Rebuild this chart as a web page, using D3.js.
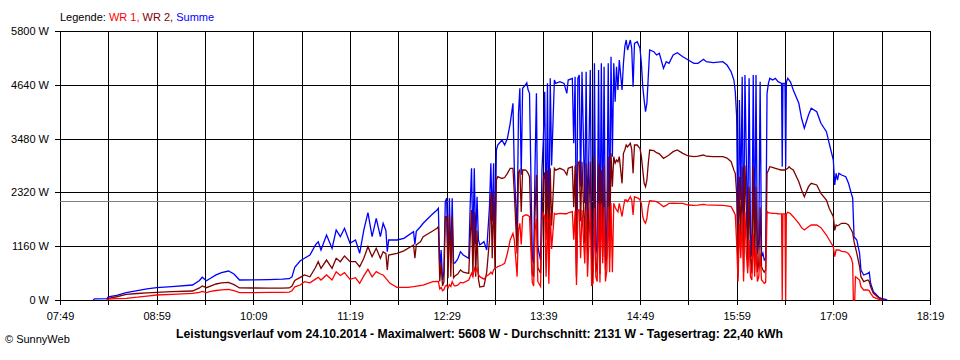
<!DOCTYPE html>
<html><head><meta charset="utf-8">
<script src="https://cdn.jsdelivr.net/npm/d3@7"></script>
<style>
html,body{margin:0;padding:0;background:#fff;}
svg{display:block;}
</style></head>
<body>
<svg id="chart" width="960" height="360"></svg>
<script>
// ---------- data ----------
const xTicks = ["07:49","08:24","08:59","09:34","10:09","10:44","11:19","11:54","12:29","13:04","13:39","14:14","14:49","15:24","15:59","16:34","17:09","17:44","18:19"];
const xTickLabels = ["07:49","08:59","10:09","11:19","12:29","13:39","14:49","15:59","17:09","18:19"];
const yTicks = [0,1160,2320,3480,4640,5800];
const seriesNames = ["WR 1","WR 2","Summe"];
const average = 2131;
const titleText = "Leistungsverlauf vom 24.10.2014 - Maximalwert: 5608 W - Durchschnitt: 2131 W - Tagesertrag: 22,40 kWh";

const summe = [["08:13",0],["08:14",25],["08:23",30],["08:24",70],["08:30",100],["08:37",157],["08:45",200],["08:52",240],["08:59",265],["09:10",290],["09:25",323],["09:30",420],["09:32",490],["09:35",416],["09:38",470],["09:42",540],["09:46",590],["09:51",625],["09:55",560],["09:59",431],["10:09",435],["10:20",440],["10:30",450],["10:35",460],["10:37",500],["10:39",705],["10:43",847],["10:46",899],["10:50",970],["10:54",1186],["10:56",1257],["10:58",1078],["11:02",1401],["11:06",1114],["11:09",1509],["11:12",1365],["11:15",1546],["11:19",1222],["11:23",1294],["11:26",1007],["11:29",1509],["11:32",1882],["11:35",1365],["11:38",1761],["11:41",1365],["11:43",1654],["11:45",1500],["11:46",1042],["11:47",1294],["11:53",1294],["11:58",1330],["12:05",1473],["12:06",1200],["12:07",1480],["12:10",1580],["12:12",1654],["12:18",1833],["12:22",1940],["12:23",1977],
["12:24",647],["12:25",1078],["12:26",431],["12:27",600],["12:28",2119],["12:29",2193],["12:30",718],["12:31",2193],["12:32",790],["12:33",2193],["12:34",790],["12:35",800],["12:37",880],["12:39",1042],["12:41",970],["12:45",899],["12:46",2012],["12:47",2840],["12:48",1150],["12:49",2840],["12:50",1200],["12:51",2227],["12:52",1294],["12:53",1186],["12:56",1257],["12:58",1078],["13:00",2012],["13:01",2947],["13:02",1700],["13:03",2947],["13:04",1150],["13:05",3234],["13:06",3342],["13:09",3450],["13:11",3342],["13:13",3486],["13:15",3810],["13:17",4241],["13:18",2803],["13:20",1438],["13:21",4025],["13:22",4564],["13:23",2700],["13:24",4564],["13:26",4635],["13:27",4685],["13:28",4528],["13:29",4456],["13:31",934],["13:32",790],["13:33",2900],["13:34",4456],["13:35",1150],["13:37",862],["13:38",2800],["13:39",3450],["13:40",4491],["13:41",1438],["13:42",4671],["13:43",1222],["13:44",4779],["13:45",2900],["13:47",4743],["13:48",4671],["13:51",4707],["13:54",4671],["13:56",4456],["13:57",4743],["14:00",4779],["14:01",3378],["14:02",4815],["14:03",790],["14:04",4779],["14:05",4851],["14:06",2443],["14:07",4922],["14:09",2084],["14:10",4922],["14:11",1509],["14:13",4958],["14:14",1078],["14:15",862],["14:16",5103],["14:17",1007],["14:18",1222],["14:19",4958],["14:20",934],["14:21",5103],["14:22",1365],["14:23",5031],["14:24",862],["14:25",1580],["14:26",5103],["14:27",1509],["14:28",5246],["14:29",3090],["14:30",5103],["14:31",4275],["14:32",5031],["14:33",4528],["14:34",5174],["14:36",4528],["14:37",5103],["14:38",5461],["14:39",5606],["14:40",5390],["14:42",5606],["14:43",5426],["14:44",4599],["14:45",5534],["14:47",5570],["14:48",5498],["14:49",5426],["14:50",5103],["14:51",4599],["14:52",4312],["14:53",4060],["14:54",4241],["14:55",4815],["14:56",5390],["14:59",5354],["15:01",5282],["15:03",5318],["15:06",4995],["15:08",5138],["15:10",5103],["15:13",5282],["15:16",5332],["15:20",5246],["15:24",5174],["15:28",5103],["15:31",5103],["15:35",5189],["15:37",5138],["15:42",5120],["15:49",5138],["15:52",5066],["15:55",4922],["15:57",4743],["15:58",4491],["15:59",3952],
["16:00",1007],["16:01",4312],["16:02",2156],["16:03",4815],["16:04",1007],["16:05",4851],["16:06",3019],["16:07",1300],["16:08",4779],["16:09",1438],["16:10",934],["16:11",4851],["16:12",1007],["16:13",4851],["16:14",1000],["16:15",1294],["16:16",4707],["16:17",934],["16:18",1007],["16:19",862],["16:20",900],["16:21",4456],["16:22",4671],["16:23",4779],["16:25",4743],["16:27",4779],["16:29",4707],["16:31:30",4671],["16:32",2875],["16:32:30",4671],["16:34",4671],["16:34:30",2875],["16:35",4700],["16:36",4779],["16:37",4743],["16:38",4700],["16:40",4528],["16:44",4241],["16:46",3918],["16:48",3702],["16:51",3989],["16:53",4133],["16:57",4060],["17:00",3810],["17:04",3630],["17:06",3378],["17:09",3019],["17:10",2479],["17:11",2731],["17:12",2587],["17:13",2731],["17:15",2695],["17:18",2659],["17:20",2516],["17:22",2300],["17:23",2200],["17:24",1365],["17:26",1294],["17:28",1007],["17:29",647],["17:31",539],["17:34",575],["17:35",600],["17:36",360],["17:38",179],["17:42",58],["17:44",30],["17:47",15],["17:48",0]];

const wr2 = [["08:23",0],["08:24",37],["08:30",70],["08:37",123],["08:45",140],["08:52",155],["08:59",166],["09:10",180],["09:25",194],["09:30",260],["09:32",302],["09:35",265],["09:38",300],["09:42",345],["09:46",370],["09:51",381],["09:55",330],["09:59",260],["10:09",259],["10:20",255],["10:30",255],["10:35",260],["10:37",300],["10:39",420],["10:43",489],["10:46",539],["10:50",500],["10:54",700],["10:56",826],["10:58",680],["11:02",862],["11:06",683],["11:09",899],["11:12",826],["11:15",949],["11:19",826],["11:23",826],["11:26",718],["11:29",900],["11:32",1150],["11:35",934],["11:38",1114],["11:41",899],["11:43",1042],["11:45",1000],["11:46",647],["11:47",970],["11:53",1007],["11:58",1060],["12:05",1186],["12:06",900],["12:07",1190],["12:10",1257],["12:12",1365],["12:18",1473],["12:22",1546],["12:23",1580],
["12:24",400],["12:25",800],["12:26",300],["12:27",395],["12:28",1796],["12:29",1800],["12:30",467],["12:31",1850],["12:32",500],["12:33",1796],["12:34",480],["12:35",520],["12:37",560],["12:39",647],["12:41",600],["12:45",575],["12:46",1300],["12:47",1940],["12:48",550],["12:49",1900],["12:50",500],["12:51",1500],["12:52",450],["12:53",280],["12:56",300],["12:58",600],["13:00",1300],["13:01",2300],["13:02",900],["13:03",2300],["13:04",650],["13:05",2587],["13:06",2659],["13:09",2620],["13:11",2640],["13:13",2731],["13:15",2840],["13:17",2840],["13:18",2300],["13:20",1000],["13:21",2750],["13:22",2803],["13:23",1900],["13:24",2803],["13:26",2803],["13:27",2780],["13:28",2731],["13:29",2659],["13:31",575],["13:32",503],["13:33",1900],["13:34",2700],["13:35",700],["13:37",575],["13:38",1700],["13:39",2600],["13:40",2750],["13:41",1300],["13:42",2800],["13:43",900],["13:44",2840],["13:45",1600],["13:47",2840],["13:48",2800],["13:51",2840],["13:54",2800],["13:56",2700],["13:57",2840],["14:00",2875],["14:01",2000],["14:02",2900],["14:03",503],["14:04",2950],["14:05",2982],["14:06",1700],["14:07",2982],["14:09",1222],["14:10",2947],["14:11",1000],["14:13",2982],["14:14",790],["14:15",600],["14:16",3090],["14:17",600],["14:18",800],["14:19",2947],["14:20",560],["14:21",2803],["14:22",934],["14:23",2900],["14:24",647],["14:25",1000],["14:26",3090],["14:27",900],["14:28",3162],["14:29",2443],["14:30",3090],["14:31",2950],["14:32",3019],["14:33",2980],["14:34",3090],["14:36",2516],["14:37",3162],["14:38",3234],["14:39",3342],["14:40",3300],["14:42",3378],["14:43",3250],["14:44",2731],["14:45",3342],["14:47",3342],["14:48",3300],["14:49",3270],["14:50",3090],["14:51",2803],["14:52",2516],["14:53",2443],["14:54",2587],["14:55",2947],["14:56",3234],["14:59",3220],["15:01",3176],["15:03",3150],["15:06",3055],["15:08",3090],["15:10",3126],["15:13",3198],["15:16",3234],["15:20",3162],["15:24",3105],["15:28",3090],["15:31",3100],["15:35",3126],["15:37",3100],["15:42",3090],["15:49",3090],["15:52",3060],["15:55",2982],["15:57",2800],["15:58",2731],["15:59",2300],
["16:00",500],["16:01",2659],["16:02",1300],["16:03",2875],["16:04",600],["16:05",2900],["16:06",2000],["16:07",718],["16:08",2443],["16:09",900],["16:10",575],["16:11",2875],["16:12",718],["16:13",2443],["16:14",600],["16:15",800],["16:16",2000],["16:17",718],["16:18",650],["16:19",600],["16:20",650],["16:21",2731],["16:22",2800],["16:23",2875],["16:25",2860],["16:27",2840],["16:29",2820],["16:31",2803],["16:34",2803],["16:36",2840],["16:37",2875],["16:38",2840],["16:40",2803],["16:44",2551],["16:46",2372],["16:48",2227],["16:51",2443],["16:53",2516],["16:57",2480],["17:00",2300],["17:04",2156],["17:06",1977],["17:09",1796],["17:10",1500],["17:11",1617],["17:12",1600],["17:13",1617],["17:15",1654],["17:18",1654],["17:20",1617],["17:22",1509],["17:23",1450],["17:24",1257],["17:26",1007],["17:28",718],["17:29",503],["17:31",395],["17:34",431],["17:35",400],["17:36",287],["17:38",144],["17:42",43],["17:44",15],["17:46",0]];

const wr1 = [["08:23",0],["08:24",20],["08:30",30],["08:37",37],["08:45",60],["08:52",85],["08:59",108],["09:10",120],["09:25",144],["09:30",165],["09:32",185],["09:35",160],["09:38",185],["09:42",205],["09:46",220],["09:51",230],["09:55",200],["09:59",160],["10:09",160],["10:20",163],["10:30",166],["10:35",170],["10:37",200],["10:39",285],["10:43",323],["10:46",395],["10:50",370],["10:54",450],["10:56",489],["10:58",431],["11:02",539],["11:06",431],["11:09",610],["11:12",530],["11:15",589],["11:19",446],["11:23",480],["11:26",360],["11:29",520],["11:32",661],["11:35",500],["11:38",610],["11:41",560],["11:43",539],["11:48",360],["11:53",274],["12:01",274],["12:05",287],["12:12",323],["12:19",395],["12:23",400],
["12:24",240],["12:25",270],["12:26",200],["12:27",220],["12:28",300],["12:29",320],["12:30",260],["12:31",330],["12:32",290],["12:33",395],["12:34",330],["12:35",300],["12:37",320],["12:39",380],["12:41",370],["12:45",431],["12:46",500],["12:47",575],["12:48",500],["12:49",683],["12:50",600],["12:51",683],["12:52",550],["12:53",503],["12:56",450],["12:58",520],["13:00",560],["13:01",600],["13:02",560],["13:03",650],["13:04",683],["13:05",700],["13:06",720],["13:09",755],["13:11",790],["13:13",1007],["13:15",1294],["13:17",1438],["13:18",1300],["13:20",503],["13:21",1500],["13:22",1654],["13:23",1200],["13:24",1796],["13:26",1833],["13:27",1833],["13:28",1820],["13:29",1796],["13:31",380],["13:32",300],["13:33",1500],["13:34",1750],["13:35",400],["13:37",290],["13:38",1700],["13:39",1869],["13:40",1800],["13:41",500],["13:42",1850],["13:43",350],["13:44",1869],["13:45",1100],["13:47",1869],["13:48",1850],["13:51",1869],["13:54",1860],["13:56",1860],["13:57",1880],["14:00",1905],["14:01",1300],["14:02",1920],["14:03",323],["14:04",1940],["14:05",1940],["14:06",900],["14:07",1940],["14:09",790],["14:10",1940],["14:11",503],["14:13",2012],["14:14",300],["14:15",360],["14:16",1980],["14:17",503],["14:18",400],["14:19",2084],["14:20",380],["14:21",2084],["14:22",790],["14:23",2000],["14:24",400],["14:25",647],["14:26",2000],["14:27",600],["14:28",2084],["14:29",600],["14:30",2084],["14:31",2000],["14:32",1940],["14:33",1900],["14:34",2084],["14:36",1800],["14:37",2000],["14:38",2156],["14:39",2156],["14:40",2120],["14:42",2227],["14:43",2156],["14:44",1833],["14:45",2227],["14:47",2200],["14:48",2190],["14:49",2156],["14:50",2084],["14:51",1796],["14:52",1700],["14:53",1654],["14:54",1760],["14:55",2012],["14:56",2141],["14:59",2130],["15:01",2120],["15:03",2084],["15:06",2012],["15:08",2040],["15:10",2084],["15:13",2090],["15:16",2084],["15:20",2084],["15:24",2048],["15:28",2040],["15:31",2045],["15:35",2060],["15:37",2050],["15:42",2045],["15:49",2040],["15:52",2030],["15:55",2012],["15:57",1900],["15:58",1833],["15:59",1222],
["16:00",400],["16:01",1650],["16:02",900],["16:03",1870],["16:04",400],["16:05",1900],["16:06",1000],["16:07",575],["16:08",1294],["16:09",500],["16:10",431],["16:11",1438],["16:12",500],["16:13",1150],["16:14",400],["16:15",500],["16:16",1000],["16:17",431],["16:18",400],["16:19",360],["16:20",380],["16:21",1905],["16:22",1880],["16:23",1880],["16:25",1869],["16:27",1869],["16:29",1860],["16:31:30",1855],["16:32",0],["16:32:30",1855],["16:34",1855],["16:34:30",0],["16:35",1860],["16:36",1890],["16:37",1880],["16:38",1860],["16:40",1796],["16:44",1654],["16:46",1560],["16:48",1509],["16:51",1580],["16:53",1617],["16:57",1617],["17:00",1560],["17:04",1401],["17:06",1300],["17:09",1150],["17:10",934],["17:11",1078],["17:13",1078],["17:15",1050],["17:18",1040],["17:20",1000],["17:22",899],["17:23",790],["17:23:30",0],["17:24:30",0],["17:25",503],["17:26",480],["17:28",431],["17:29",287],["17:31",216],["17:34",216],["17:35",200],["17:36",144],["17:38",60],["17:42",15],["17:44",0]];

// ---------- drawing ----------
const colors = {wr1:"#ff0000", wr2:"#800000", summe:"#0000ff"};
const FONT = "'Liberation Sans', Arial, sans-serif";
const parseT = s => { const p = s.split(":").map(Number); return p[0]*60 + p[1] + (p[2]||0)/60; };

const svg = d3.select("#chart");
svg.append("rect").attr("width",960).attr("height",360).attr("fill","#fff");

const x = d3.scaleLinear().domain([parseT(xTicks[0]), parseT(xTicks[xTicks.length-1])]).range([60, 930]);
const y = d3.scaleLinear().domain([0, 5800]).range([300, 31]);

// x axis / vertical grid
const xAxis = d3.axisBottom(x)
  .tickValues(xTicks.map(parseT))
  .tickSize(-274)
  .tickPadding(7)
  .tickFormat((d,i) => { const s = xTicks[i]; return xTickLabels.includes(s) ? s : ""; });
const gx = svg.append("g").attr("transform","translate(0,305)").call(xAxis);
gx.select(".domain").remove();
gx.selectAll("line").attr("stroke","#000").attr("shape-rendering","crispEdges");
gx.selectAll("text").attr("font-family",FONT).attr("font-size",11).attr("fill","#000");

// y axis / horizontal grid
const yAxis = d3.axisLeft(y)
  .tickValues(yTicks)
  .tickSize(-875)
  .tickPadding(6)
  .tickFormat(d => d + " W");
const gy = svg.append("g").attr("transform","translate(55,0)").call(yAxis);
gy.select(".domain").remove();
gy.selectAll("line").attr("stroke","#000").attr("shape-rendering","crispEdges");
gy.selectAll("text").attr("font-family",FONT).attr("font-size",11).attr("fill","#000");

// average line
svg.append("line")
  .attr("x1", x.range()[0]).attr("x2", x.range()[1])
  .attr("y1", y(average)).attr("y2", y(average))
  .attr("stroke","#808080").attr("stroke-width",1).attr("shape-rendering","crispEdges");

// series lines
const line = d3.line().x(d => x(parseT(d[0]))).y(d => y(d[1]));
[[summe, colors.summe],[wr2, colors.wr2],[wr1, colors.wr1]].forEach(([data,col]) => {
  svg.append("path").datum(data)
    .attr("d", line).attr("fill","none").attr("stroke",col)
    .attr("stroke-width",1.3).attr("stroke-linejoin","miter");
});

// legend
const leg = svg.append("text").attr("x",60).attr("y",21)
  .attr("font-family",FONT).attr("font-size",11);
leg.append("tspan").attr("fill","#000").text("Legende: ");
leg.append("tspan").attr("fill",colors.wr1).text(seriesNames[0] + ", ");
leg.append("tspan").attr("fill",colors.wr2).text(seriesNames[1] + ", ");
leg.append("tspan").attr("fill",colors.summe).text(seriesNames[2]);

// title
svg.append("text").attr("x",176).attr("y",338)
  .attr("font-family",FONT).attr("font-size",12).attr("font-weight","bold")
  .attr("textLength",607).attr("lengthAdjust","spacingAndGlyphs")
  .attr("fill","#000").text(titleText);

// copyright
svg.append("text").attr("x",5).attr("y",343)
  .attr("font-family",FONT).attr("font-size",11).attr("fill","#000")
  .text("\u00A9 SunnyWeb");
</script>
</body></html>
